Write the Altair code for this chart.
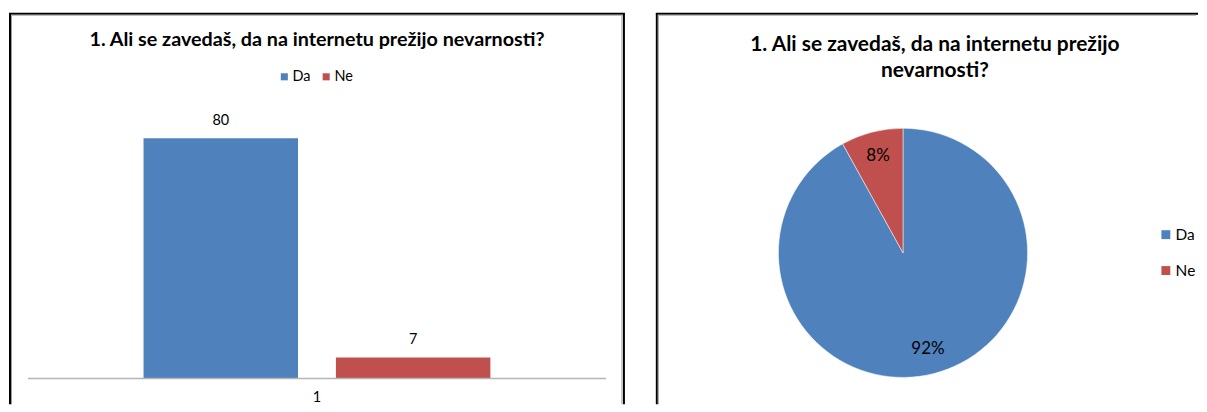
import altair as alt
import pandas as pd

# ---- data ----
series = ["Da", "Ne"]
values = [80, 7]
category_label = "1"
colors = ["#4F81BD", "#C0504D"]
title_text = "1. Ali se zavedaš, da na internetu prežijo nevarnosti?"
title_lines = ["1. Ali se zavedaš, da na internetu prežijo", "nevarnosti?"]

FONT = "Lato"
df = pd.DataFrame({"series": series, "value": values})
one = alt.Data(values=[{}])

LW, RW, H = 618, 544, 392


def frame(width, right=True):
    black = "#000000"
    gray = "#9a9a9a"
    layers = [
        alt.Chart(one).mark_rule(color=black, strokeWidth=2).encode(
            x=alt.value(1), y=alt.value(0), y2=alt.value(H)),
        alt.Chart(one).mark_rule(color=gray, strokeWidth=1).encode(
            x=alt.value(2.5), y=alt.value(2), y2=alt.value(H)),
        alt.Chart(one).mark_rule(color=black, strokeWidth=2).encode(
            x=alt.value(0), x2=alt.value(width), y=alt.value(0)),
        alt.Chart(one).mark_rule(color=gray, strokeWidth=1).encode(
            x=alt.value(2), x2=alt.value(width - 2), y=alt.value(1.5)),
    ]
    if right:
        layers += [
            alt.Chart(one).mark_rule(color=black, strokeWidth=2).encode(
                x=alt.value(width - 1), y=alt.value(0), y2=alt.value(H)),
            alt.Chart(one).mark_rule(color=gray, strokeWidth=1).encode(
                x=alt.value(width - 3), y=alt.value(2), y2=alt.value(H)),
        ]
    return layers


# ---- left: bar chart ----
xenc = alt.X("series:N", scale=alt.Scale(domain=series, range=[135, 483],
                                         paddingInner=0.197, paddingOuter=0),
             axis=None)
yscale = alt.Scale(domain=[0, 90], range=[366, 95])
yenc = alt.Y("value:Q", scale=yscale, axis=None)

bars = alt.Chart(df).mark_bar().encode(
    x=xenc, y=yenc,
    color=alt.Color("series:N", scale=alt.Scale(domain=series, range=colors),
                    legend=alt.Legend(orient="none", legendX=269, legendY=56,
                                      direction="horizontal", title=None,
                                      symbolType="square", symbolSize=50,
                                      symbolStrokeWidth=0, labelFont=FONT,
                                      labelFontSize=14.5, columnPadding=8,
                                      labelOffset=1, labelColor="#000000")),
)
bar_labels = alt.Chart(df).mark_text(font=FONT, fontSize=14.5, dy=-17, color="#000000").encode(
    x=alt.X("series:N"), y=alt.Y("value:Q"), text="value:Q")

axis_line = alt.Chart(one).mark_rule(color="#b5b5b5", strokeWidth=1.5).encode(
    y=alt.datum(0), x=alt.value(19), x2=alt.value(599))
axis_label = alt.Chart(one).mark_text(font=FONT, fontSize=14.5, color="#000000", dy=20).encode(
    y=alt.datum(0), x=alt.value(309), text=alt.value(category_label))

left_title = alt.Chart(one).mark_text(font=FONT, fontSize=19.8, fontWeight="bold",
                                      color="#000000").encode(
    x=alt.value(LW / 2), y=alt.value(26), text=alt.value(title_text))

left = alt.layer(*frame(LW), bars, bar_labels, axis_line, axis_label, left_title).properties(
    width=LW, height=H)

# ---- right: pie chart ----
base = alt.Chart(df).transform_joinaggregate(total="sum(value)").transform_calculate(
    pct="format(datum.value / datum.total, '.0%')")
order = alt.Order("series:N", sort="ascending")
pie = base.mark_arc(stroke="#ffffff", strokeWidth=0.5).encode(
    theta=alt.Theta("value:Q", stack=True),
    order=order,
    color=alt.Color("series:N", scale=alt.Scale(domain=series, range=colors),
                    legend=alt.Legend(orient="none", legendX=504, legendY=214,
                                      direction="vertical", title=None,
                                      symbolType="square", symbolSize=80,
                                      symbolStrokeWidth=0, labelFont=FONT,
                                      labelFontSize=15.5, rowPadding=19,
                                      labelOffset=2, labelColor="#000000")),
    x=alt.value(248), y=alt.value(240), radius=alt.value(125),
)
pie_labels = base.mark_text(font=FONT, fontSize=17, color="#000000").encode(
    theta=alt.Theta("value:Q", stack=True),
    order=order,
    detail="series:N",
    x=alt.value(248), y=alt.value(240), radius=alt.value(100),
    text="pct:N",
)
right_title = alt.Chart(one).mark_text(font=FONT, fontSize=21, fontWeight="bold",
                                       color="#000000", baseline="top",
                                       lineHeight=27).encode(
    x=alt.value(280), y=alt.value(20), text=alt.value(title_lines))

right = alt.layer(*frame(RW, right=False), pie, pie_labels, right_title).properties(
    width=RW, height=H)

chart = alt.hconcat(left, right, spacing=29).resolve_scale(
    color="independent", x="independent", y="independent", theta="independent"
).resolve_legend(color="independent").properties(
    padding={"left": 0, "top": 4, "right": 0, "bottom": 0}
).configure_view(stroke=None)

chart.save("out.html", embed_options={"renderer": "svg", "actions": False})
